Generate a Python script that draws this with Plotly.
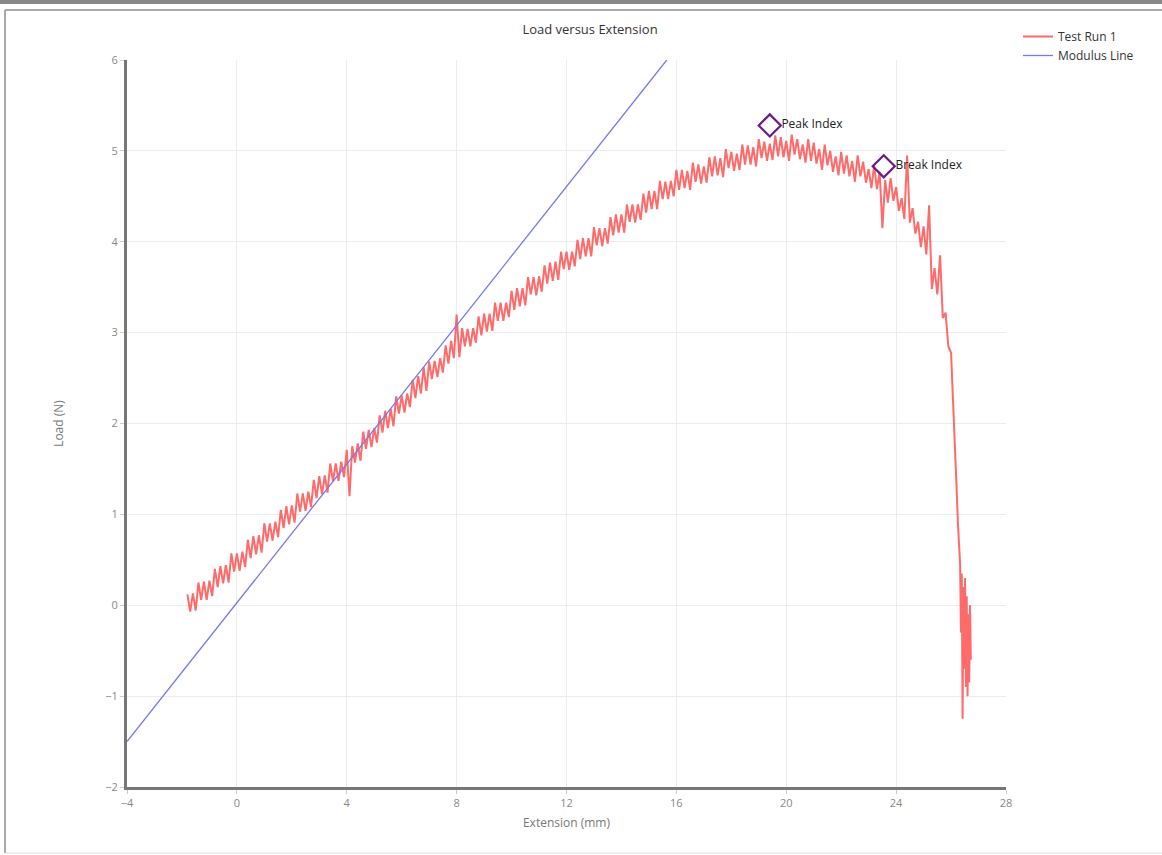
import plotly.graph_objects as go

# Test Run 1 (extension mm, load N)
ext = [-1.8,-1.7,-1.6,-1.5,-1.4,-1.3,-1.2,-1.1,-1.0,-0.9,
       -0.8,-0.7,-0.6,-0.5,-0.4,-0.3,-0.2,-0.1,0.0,0.1,
       0.2,0.3,0.4,0.5,0.6,0.7,0.8,0.9,1.0,1.1,
       1.2,1.3,1.4,1.5,1.6,1.7,1.8,1.9,2.0,2.1,
       2.2,2.3,2.4,2.5,2.6,2.7,2.8,2.9,3.0,3.1,
       3.2,3.3,3.4,3.5,3.6,3.7,3.8,3.9,4.0,4.1,
       4.2,4.3,4.4,4.5,4.6,4.7,4.8,4.9,5.0,5.1,
       5.2,5.3,5.4,5.5,5.6,5.7,5.8,5.9,6.0,6.1,
       6.2,6.3,6.4,6.5,6.6,6.7,6.8,6.9,7.0,7.1,
       7.2,7.3,7.4,7.5,7.6,7.7,7.8,7.9,8.0,8.1,
       8.2,8.3,8.4,8.5,8.6,8.7,8.8,8.9,9.0,9.1,
       9.2,9.3,9.4,9.5,9.6,9.7,9.8,9.9,10.0,10.1,
       10.2,10.3,10.4,10.5,10.6,10.7,10.8,10.9,11.0,11.1,
       11.2,11.3,11.4,11.5,11.6,11.7,11.8,11.9,12.0,12.1,
       12.2,12.3,12.4,12.5,12.6,12.7,12.8,12.9,13.0,13.1,
       13.2,13.3,13.4,13.5,13.6,13.7,13.8,13.9,14.0,14.1,
       14.2,14.3,14.4,14.5,14.6,14.7,14.8,14.9,15.0,15.1,
       15.2,15.3,15.4,15.5,15.6,15.7,15.8,15.9,16.0,16.1,
       16.2,16.3,16.4,16.5,16.6,16.7,16.8,16.9,17.0,17.1,
       17.2,17.3,17.4,17.5,17.6,17.7,17.8,17.9,18.0,18.1,
       18.2,18.3,18.4,18.5,18.6,18.7,18.8,18.9,19.0,19.1,
       19.2,19.3,19.4,19.5,19.6,19.7,19.8,19.9,20.0,20.1,
       20.2,20.3,20.4,20.5,20.6,20.7,20.8,20.9,21.0,21.1,
       21.2,21.3,21.4,21.5,21.6,21.7,21.8,21.9,22.0,22.1,
       22.2,22.3,22.4,22.5,22.6,22.7,22.8,22.9,23.0,23.1,
       23.2,23.3,23.4,23.5,23.6,23.7,23.8,23.9,24.0,24.1,
       24.2,24.3,24.4,24.5,24.6,24.7,24.8,24.9,25.0,25.1,
       25.2,25.3,25.4,25.5,25.6,25.7,25.8,25.9,26.0,
       26.05,26.1,26.15,26.2,26.25,26.3,
       26.33,26.36,26.39,26.42,26.45,26.48,26.51,26.54,26.57,26.6,
       26.63,26.66,26.69,26.72]
load = [0.12,-0.07,0.13,-0.06,0.25,0.06,0.26,0.06,0.27,0.10,
        0.40,0.20,0.43,0.24,0.44,0.25,0.57,0.37,0.57,0.38,
        0.59,0.42,0.72,0.52,0.76,0.56,0.77,0.58,0.90,0.70,
        0.90,0.71,0.92,0.75,1.05,0.85,1.09,0.89,1.10,0.91,
        1.23,1.03,1.23,1.04,1.25,1.08,1.38,1.18,1.42,1.22,
        1.43,1.24,1.56,1.36,1.56,1.37,1.58,1.41,1.71,1.20,
        1.75,1.57,1.78,1.59,1.91,1.72,1.93,1.74,1.95,1.79,
        2.09,1.90,2.14,1.95,2.16,1.97,2.30,2.11,2.31,2.12,
        2.33,2.18,2.48,2.28,2.52,2.33,2.62,2.36,2.68,2.49,
        2.69,2.51,2.72,2.56,2.86,2.66,2.91,2.72,3.20,2.73,
        3.05,2.85,3.04,2.85,3.05,2.89,3.18,2.97,3.21,3.01,
        3.21,3.02,3.33,3.13,3.33,3.13,3.33,3.17,3.46,3.25,
        3.49,3.29,3.49,3.30,3.61,3.42,3.61,3.41,3.62,3.45,
        3.74,3.54,3.77,3.57,3.78,3.58,3.89,3.70,3.89,3.69,
        3.89,3.73,4.02,3.81,4.04,3.84,4.04,3.84,4.16,3.96,
        4.15,3.95,4.15,3.98,4.27,4.07,4.30,4.10,4.30,4.10,
        4.41,4.22,4.41,4.21,4.41,4.24,4.53,4.32,4.56,4.36,
        4.56,4.36,4.67,4.47,4.66,4.47,4.67,4.50,4.79,4.57,
        4.79,4.59,4.78,4.57,4.87,4.66,4.85,4.64,4.83,4.65,
        4.93,4.72,4.94,4.73,4.92,4.71,5.02,4.81,4.99,4.78,
        4.97,4.79,5.07,4.85,5.06,4.85,5.04,4.83,5.13,4.92,
        5.10,4.89,5.08,4.90,5.17,4.94,5.15,4.93,5.11,4.89,
        5.18,4.96,5.13,4.91,5.07,4.87,5.13,4.89,5.09,4.86,
        5.02,4.79,5.07,4.84,5.00,4.77,4.94,4.73,4.99,4.75,
        4.95,4.72,4.89,4.66,4.95,4.72,4.88,4.65,4.80,4.59,
        4.84,4.58,4.77,4.15,4.68,4.43,4.70,4.45,4.60,4.34,
        4.48,4.25,4.95,4.21,4.37,4.09,4.22,3.94,4.17,3.86,
        4.40,3.48,3.71,3.42,3.85,3.16,3.22,2.85,2.78,
        2.45,2.10,1.70,1.30,0.90,0.50,
        0.45,-0.30,0.35,-1.25,0.20,-0.70,0.30,-0.90,0.10,-1.00,
        -0.10,-0.85,0.00,-0.60]

# Modulus line endpoints
mod_x = [-4.0, 15.65]
mod_y = [-1.5, 6.0]

# Annotated points
peak_x, peak_y = [19.4], [5.28]
break_x, break_y = [23.55], [4.83]

x_ticks = [-4, 0, 4, 8, 12, 16, 20, 24, 28]
y_ticks = [-2, -1, 0, 1, 2, 3, 4, 5, 6]

fig = go.Figure()
fig.add_trace(go.Scatter(x=ext, y=load, mode="lines", name="Test Run 1",
                         line=dict(color="rgba(255,85,85,0.88)", width=2.0)))
fig.add_trace(go.Scatter(x=mod_x, y=mod_y, mode="lines", name="Modulus Line",
                         line=dict(color="#7777ee", width=1.3)))
fig.add_trace(go.Scatter(x=peak_x, y=peak_y, mode="markers+text", text=["Peak Index"],
                         textposition="middle right", showlegend=False,
                         textfont=dict(size=12, color="#222"),
                         marker=dict(symbol="diamond-open", size=17, color="#6a1a8a",
                                     line=dict(width=2.2, color="#6a1a8a"))))
fig.add_trace(go.Scatter(x=break_x, y=break_y, mode="markers+text", text=["Break Index"],
                         textposition="middle right", showlegend=False,
                         textfont=dict(size=12, color="#222"),
                         marker=dict(symbol="diamond-open", size=17, color="#6a1a8a",
                                     line=dict(width=2.2, color="#6a1a8a"))))

W, H = 1162, 855
L, R, T, B = 127, 1006, 60, 787
def px(xp):
    return (xp - L) / (R - L)
def py(yp):
    return (B - yp) / (B - T)

shapes = [
    dict(type="rect", xref="paper", yref="paper", x0=px(-5), x1=px(W + 5), y0=py(4), y1=py(-5),
         fillcolor="#888", line=dict(width=0), layer="above"),
    dict(type="line", xref="paper", yref="paper", x0=px(5), x1=px(W + 5), y0=py(10), y1=py(10),
         line=dict(color="#aaa", width=2)),
    dict(type="line", xref="paper", yref="paper", x0=px(5), x1=px(5), y0=py(10), y1=py(853),
         line=dict(color="#aaa", width=2)),
    dict(type="line", xref="paper", yref="paper", x0=px(5), x1=px(W + 5), y0=py(853), y1=py(853),
         line=dict(color="#ddd", width=1)),
]

fig.update_layout(
    width=W, height=H,
    margin=dict(l=L, r=W - R, t=T, b=H - B),
    paper_bgcolor="white", plot_bgcolor="white",
    font=dict(family="Open Sans, sans-serif", color="#666", size=11),
    title=dict(text="Load versus Extension", x=590 / W, xanchor="center", y=1 - 29 / H,
               yanchor="middle", font=dict(size=13, color="#333")),
    legend=dict(x=px(1018), y=py(22), xanchor="left", yanchor="top",
                font=dict(size=12, color="#333"), bgcolor="rgba(0,0,0,0)",
                tracegroupgap=2),
    shapes=shapes,
    xaxis=dict(range=[-4, 28], tickvals=x_ticks, showgrid=True, gridcolor="#ececec",
               zeroline=False, showline=True, linecolor="#777", linewidth=3,
               ticks="outside", ticklen=4, tickcolor="#ccc",
               title=dict(text="Extension (mm)", font=dict(size=12, color="#777"), standoff=10),
               tickfont=dict(size=11, color="#888")),
    yaxis=dict(range=[-2, 6], tickvals=y_ticks, showgrid=True, gridcolor="#ececec",
               zeroline=False, showline=True, linecolor="#777", linewidth=3,
               ticks="outside", ticklen=4, tickcolor="#ccc",
               title=dict(text="Load (N)", font=dict(size=12, color="#777"), standoff=40),
               tickfont=dict(size=11, color="#888")),
)

fig.write_html("out.html")
